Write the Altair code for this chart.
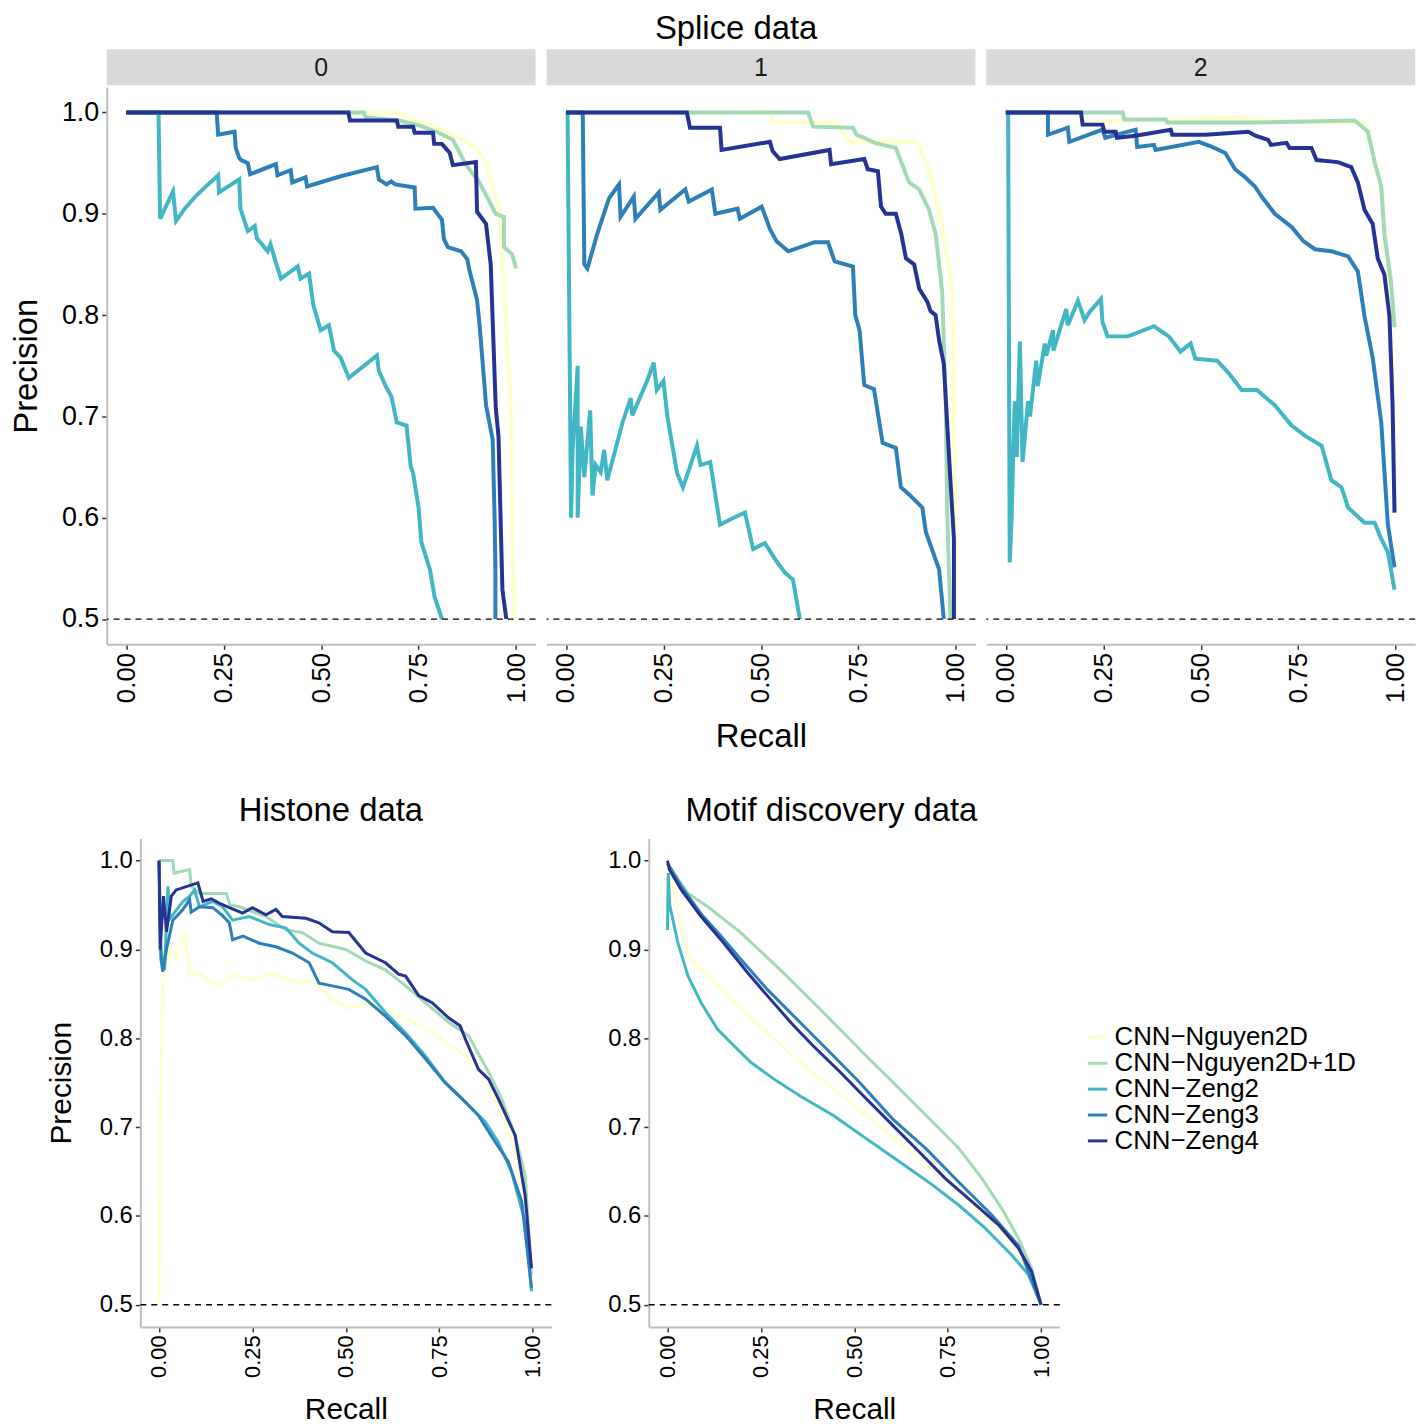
import altair as alt
import pandas as pd

MODELS = ["CNN\u2212Nguyen2D", "CNN\u2212Nguyen2D+1D", "CNN\u2212Zeng2", "CNN\u2212Zeng3", "CNN\u2212Zeng4"]
COLORS = ["#FFFFCC", "#A1DAB4", "#41B6C4", "#2C7FB8", "#253494"]
X_TICKS = [0, 0.25, 0.5, 0.75, 1.0]
Y_TICKS = [0.5, 0.6, 0.7, 0.8, 0.9, 1.0]
FACETS = ["0", "1", "2"]

# ---------------- Splice data, fold 0 ----------------
S0_N2D = [(0, 1), (0.694, 1), (0.72, 0.995), (0.787, 0.987), (0.855, 0.975), (0.897, 0.965), (0.923, 0.951),
          (0.957, 0.904), (0.969, 0.826), (0.986, 0.715), (0.99, 0.596), (0.995, 0.5)]
S0_N2D1D = [(0, 1), (0.609, 1), (0.615, 0.995), (0.70, 0.992), (0.753, 0.987), (0.796, 0.981), (0.838, 0.973),
            (0.872, 0.948), (0.906, 0.931), (0.948, 0.9), (0.969, 0.897), (0.969, 0.867), (0.99, 0.86), (1.0, 0.846)]
S0_Z2 = [(0, 1), (0.083, 1), (0.087, 0.895), (0.12, 0.922), (0.128, 0.893), (0.15, 0.905), (0.18, 0.918),
         (0.21, 0.929), (0.236, 0.938), (0.238, 0.921), (0.29, 0.934), (0.293, 0.905), (0.312, 0.883),
         (0.33, 0.888), (0.335, 0.876), (0.363, 0.863), (0.37, 0.87), (0.383, 0.853), (0.397, 0.836),
         (0.44, 0.848), (0.447, 0.836), (0.469, 0.841), (0.48, 0.81), (0.499, 0.785), (0.52, 0.79),
         (0.533, 0.765), (0.55, 0.758), (0.571, 0.738), (0.643, 0.76), (0.648, 0.745), (0.668, 0.728),
         (0.68, 0.72), (0.694, 0.694), (0.719, 0.691), (0.73, 0.65), (0.736, 0.644), (0.75, 0.61),
         (0.757, 0.576), (0.779, 0.549), (0.791, 0.522), (0.81, 0.5)]
S0_Z3 = [(0, 1), (0.232, 1), (0.236, 0.978), (0.278, 0.981), (0.281, 0.965), (0.29, 0.955), (0.295, 0.953),
         (0.312, 0.95), (0.318, 0.939), (0.384, 0.949), (0.388, 0.938), (0.422, 0.943), (0.426, 0.931),
         (0.46, 0.936), (0.464, 0.927), (0.55, 0.937), (0.643, 0.946), (0.648, 0.934), (0.668, 0.929),
         (0.68, 0.932), (0.69, 0.929), (0.74, 0.926), (0.742, 0.905), (0.787, 0.906), (0.81, 0.894),
         (0.815, 0.875), (0.825, 0.867), (0.859, 0.863), (0.875, 0.855), (0.88, 0.845), (0.9, 0.815),
         (0.906, 0.792), (0.915, 0.75), (0.923, 0.711), (0.94, 0.677), (0.945, 0.6), (0.947, 0.549), (0.947, 0.5)]
S0_Z4 = [(0, 1), (0.57, 1), (0.574, 0.992), (0.694, 0.992), (0.698, 0.986), (0.736, 0.986), (0.74, 0.98),
         (0.787, 0.98), (0.79, 0.969), (0.81, 0.969), (0.83, 0.96), (0.838, 0.948), (0.897, 0.951),
         (0.9, 0.902), (0.923, 0.89), (0.935, 0.85), (0.948, 0.708), (0.955, 0.68), (0.965, 0.529), (0.975, 0.5)]

# ---------------- Splice data, fold 1 ----------------
S1_N2D = [(0, 1), (0.527, 1), (0.53, 0.99), (0.70, 0.99), (0.714, 0.975), (0.731, 0.971), (0.897, 0.971),
          (0.927, 0.948), (0.957, 0.904), (0.98, 0.85), (0.991, 0.826), (0.995, 0.711), (0.999, 0.583), (0.999, 0.5)]
S1_N2D1D = [(0, 1), (0.621, 1), (0.634, 0.986), (0.736, 0.985), (0.745, 0.978), (0.765, 0.975), (0.791, 0.97),
            (0.846, 0.965), (0.88, 0.931), (0.906, 0.924), (0.931, 0.904), (0.948, 0.88), (0.965, 0.823),
            (0.974, 0.711), (0.978, 0.603), (0.986, 0.5)]
S1_Z2 = [(0, 1), (0.004, 1), (0.013, 0.6), (0.017, 0.667), (0.03, 0.75), (0.03, 0.6), (0.038, 0.69),
         (0.047, 0.64), (0.062, 0.706), (0.068, 0.622), (0.076, 0.652), (0.089, 0.645), (0.098, 0.667),
         (0.106, 0.637), (0.145, 0.694), (0.166, 0.718), (0.17, 0.701), (0.208, 0.735), (0.225, 0.753),
         (0.233, 0.726), (0.25, 0.735), (0.26, 0.7), (0.285, 0.644), (0.3, 0.63), (0.336, 0.671),
         (0.345, 0.652), (0.37, 0.655), (0.395, 0.593), (0.43, 0.6), (0.459, 0.605), (0.48, 0.569),
         (0.51, 0.575), (0.54, 0.557), (0.561, 0.546), (0.582, 0.539), (0.6, 0.5)]
S1_Z3 = [(0, 1), (0.043, 1), (0.047, 0.85), (0.055, 0.846), (0.08, 0.88), (0.11, 0.915), (0.136, 0.929),
         (0.14, 0.897), (0.174, 0.917), (0.178, 0.895), (0.238, 0.921), (0.242, 0.904), (0.306, 0.924),
         (0.315, 0.912), (0.374, 0.924), (0.383, 0.9), (0.44, 0.905), (0.446, 0.895), (0.502, 0.907),
         (0.523, 0.885), (0.54, 0.873), (0.57, 0.863), (0.638, 0.872), (0.672, 0.872), (0.689, 0.853),
         (0.736, 0.848), (0.742, 0.8), (0.753, 0.785), (0.765, 0.731), (0.79, 0.727), (0.812, 0.674),
         (0.846, 0.669), (0.859, 0.63), (0.88, 0.623), (0.914, 0.61), (0.923, 0.586), (0.957, 0.549), (0.969, 0.5)]
S1_Z4 = [(0, 1), (0.31, 1), (0.318, 0.985), (0.395, 0.985), (0.399, 0.963), (0.523, 0.971), (0.53, 0.962),
         (0.548, 0.954), (0.676, 0.963), (0.68, 0.949), (0.765, 0.954), (0.774, 0.944), (0.8, 0.942),
         (0.808, 0.907), (0.82, 0.9), (0.846, 0.9), (0.86, 0.88), (0.872, 0.856), (0.893, 0.85),
         (0.906, 0.826), (0.927, 0.813), (0.935, 0.804), (0.948, 0.8), (0.957, 0.775), (0.969, 0.752),
         (0.978, 0.691), (0.986, 0.637), (0.995, 0.579), (0.995, 0.5)]

# ---------------- Splice data, fold 2 ----------------
S2_N2D = [(0, 1), (0.19, 1), (0.195, 0.99), (0.4, 0.993), (0.58, 0.995), (0.77, 0.99), (0.92, 0.99),
          (0.94, 0.96), (0.96, 0.93), (0.975, 0.88), (0.99, 0.78), (0.995, 0.72)]
S2_N2D1D = [(0, 1), (0.3, 1), (0.304, 0.993), (0.41, 0.993), (0.414, 0.99), (0.64, 0.99), (0.895, 0.992),
            (0.929, 0.981), (0.946, 0.951), (0.963, 0.927), (0.971, 0.88), (0.988, 0.833), (0.997, 0.788)]
S2_Z2 = [(0, 1), (0.006, 1), (0.01, 0.556), (0.015, 0.6), (0.019, 0.664), (0.023, 0.715), (0.028, 0.66),
         (0.036, 0.774), (0.043, 0.655), (0.057, 0.715), (0.062, 0.7), (0.078, 0.755), (0.082, 0.73),
         (0.1, 0.772), (0.104, 0.76), (0.121, 0.785), (0.122, 0.765), (0.155, 0.806), (0.159, 0.79),
         (0.185, 0.814), (0.202, 0.795), (0.215, 0.803), (0.244, 0.816), (0.248, 0.793), (0.261, 0.779),
         (0.31, 0.779), (0.32, 0.78), (0.38, 0.789), (0.418, 0.779), (0.448, 0.764), (0.474, 0.772),
         (0.486, 0.757), (0.542, 0.755), (0.571, 0.743), (0.605, 0.726), (0.644, 0.726), (0.69, 0.711),
         (0.733, 0.691), (0.767, 0.681), (0.81, 0.671), (0.835, 0.637), (0.861, 0.63), (0.878, 0.61),
         (0.92, 0.595), (0.946, 0.595), (0.963, 0.579), (0.98, 0.566), (0.997, 0.529)]
S2_Z3 = [(0, 1), (0.108, 1), (0.108, 0.978), (0.159, 0.985), (0.163, 0.971), (0.248, 0.983), (0.255, 0.975),
         (0.333, 0.983), (0.337, 0.966), (0.38, 0.968), (0.384, 0.963), (0.495, 0.971), (0.529, 0.966),
         (0.563, 0.96), (0.588, 0.944), (0.614, 0.936), (0.639, 0.927), (0.656, 0.917), (0.69, 0.9),
         (0.733, 0.887), (0.763, 0.873), (0.793, 0.865), (0.835, 0.863), (0.878, 0.858), (0.903, 0.843),
         (0.92, 0.799), (0.941, 0.758), (0.963, 0.694), (0.98, 0.593), (0.997, 0.551)]
S2_Z4 = [(0, 1), (0.193, 1), (0.197, 0.988), (0.248, 0.988), (0.253, 0.981), (0.282, 0.981), (0.285, 0.975),
         (0.333, 0.977), (0.423, 0.983), (0.427, 0.978), (0.512, 0.978), (0.622, 0.981), (0.64, 0.977),
         (0.673, 0.973), (0.68, 0.968), (0.72, 0.97), (0.728, 0.965), (0.784, 0.965), (0.797, 0.953),
         (0.852, 0.951), (0.886, 0.946), (0.903, 0.931), (0.92, 0.904), (0.941, 0.89), (0.954, 0.856),
         (0.971, 0.84), (0.984, 0.799), (0.992, 0.711), (0.997, 0.605)]

# ---------------- Histone data ----------------
H_N2D = [(0, 0.5), (0.003, 0.7), (0.008, 0.82), (0.012, 0.87), (0.03, 0.9), (0.046, 0.889), (0.068, 0.919),
         (0.075, 0.9), (0.082, 0.87), (0.108, 0.873), (0.135, 0.864), (0.166, 0.859), (0.197, 0.872),
         (0.242, 0.866), (0.304, 0.872), (0.375, 0.862), (0.41, 0.864), (0.464, 0.844), (0.508, 0.834),
         (0.553, 0.839), (0.624, 0.829), (0.686, 0.818), (0.757, 0.799), (0.82, 0.78), (0.873, 0.758),
         (0.917, 0.713), (0.953, 0.676), (0.98, 0.62), (0.997, 0.545)]
H_N2D1D = [(0, 1), (0.037, 1), (0.04, 0.986), (0.082, 0.99), (0.086, 0.971), (0.108, 0.963), (0.18, 0.963),
           (0.19, 0.95), (0.215, 0.948), (0.286, 0.937), (0.34, 0.922), (0.384, 0.919), (0.428, 0.907),
           (0.5, 0.9), (0.553, 0.887), (0.606, 0.877), (0.66, 0.859), (0.713, 0.84), (0.775, 0.818),
           (0.828, 0.803), (0.882, 0.762), (0.917, 0.732), (0.953, 0.691), (0.98, 0.646), (0.997, 0.534)]
H_Z2 = [(0, 1), (0.005, 0.9), (0.015, 0.877), (0.024, 0.971), (0.028, 0.934), (0.064, 0.954), (0.082, 0.96),
        (0.095, 0.967), (0.108, 0.948), (0.144, 0.954), (0.17, 0.948), (0.197, 0.933), (0.242, 0.937),
        (0.295, 0.928), (0.34, 0.924), (0.375, 0.907), (0.41, 0.896), (0.464, 0.885), (0.517, 0.866),
        (0.553, 0.855), (0.606, 0.829), (0.66, 0.806), (0.713, 0.78), (0.766, 0.75), (0.82, 0.728),
        (0.873, 0.706), (0.908, 0.683), (0.944, 0.649), (0.98, 0.593), (0.997, 0.515)]
H_Z3 = [(0, 1), (0.005, 0.89), (0.01, 0.875), (0.02, 0.9), (0.037, 0.933), (0.064, 0.945), (0.082, 0.956),
        (0.086, 0.942), (0.108, 0.948), (0.144, 0.947), (0.17, 0.938), (0.188, 0.93), (0.197, 0.911),
        (0.225, 0.915), (0.268, 0.907), (0.313, 0.903), (0.357, 0.896), (0.402, 0.885), (0.428, 0.862),
        (0.464, 0.859), (0.508, 0.855), (0.553, 0.844), (0.606, 0.825), (0.66, 0.803), (0.713, 0.777),
        (0.766, 0.75), (0.811, 0.732), (0.855, 0.713), (0.9, 0.683), (0.935, 0.661), (0.971, 0.616), (0.997, 0.519)]
H_Z4 = [(0, 1), (0.003, 0.9), (0.012, 0.96), (0.02, 0.92), (0.033, 0.96), (0.046, 0.967), (0.075, 0.971),
        (0.104, 0.975), (0.118, 0.954), (0.14, 0.957), (0.162, 0.952), (0.188, 0.947), (0.224, 0.941),
        (0.25, 0.947), (0.286, 0.939), (0.313, 0.945), (0.33, 0.937), (0.393, 0.935), (0.428, 0.93),
        (0.464, 0.92), (0.508, 0.919), (0.553, 0.896), (0.606, 0.885), (0.642, 0.872), (0.66, 0.87),
        (0.695, 0.848), (0.731, 0.84), (0.775, 0.823), (0.806, 0.814), (0.82, 0.799), (0.855, 0.765),
        (0.882, 0.754), (0.908, 0.732), (0.953, 0.691), (0.98, 0.623), (0.997, 0.541)]

# ---------------- Motif discovery data ----------------
M_N2D = [(0, 0.997), (0.011, 0.978), (0.055, 0.892), (0.108, 0.87), (0.179, 0.84), (0.267, 0.806),
         (0.355, 0.773), (0.444, 0.743), (0.532, 0.713), (0.621, 0.683), (0.709, 0.653), (0.798, 0.62),
         (0.886, 0.586), (0.939, 0.56), (1.0, 0.5)]
M_N2D1D = [(0, 0.997), (0.055, 0.963), (0.108, 0.948), (0.196, 0.919), (0.302, 0.877), (0.408, 0.833),
           (0.532, 0.78), (0.621, 0.743), (0.709, 0.706), (0.78, 0.676), (0.842, 0.642), (0.895, 0.608),
           (0.939, 0.575), (0.975, 0.541), (1.0, 0.5)]
M_Z2 = [(0, 0.922), (0.002, 0.986), (0.006, 0.95), (0.028, 0.907), (0.055, 0.87), (0.09, 0.84), (0.134, 0.81),
        (0.179, 0.791), (0.223, 0.773), (0.285, 0.754), (0.355, 0.735), (0.444, 0.713), (0.532, 0.687),
        (0.621, 0.661), (0.709, 0.635), (0.78, 0.612), (0.851, 0.586), (0.921, 0.556), (0.966, 0.534), (1.0, 0.5)]
M_Z3 = [(0, 0.997), (0.037, 0.971), (0.09, 0.94), (0.143, 0.915), (0.196, 0.889), (0.267, 0.855),
        (0.338, 0.825), (0.426, 0.788), (0.515, 0.75), (0.603, 0.709), (0.691, 0.676), (0.78, 0.638),
        (0.868, 0.601), (0.939, 0.567), (1.0, 0.5)]
M_Z4 = [(0, 1.0), (0.005, 0.99), (0.037, 0.967), (0.09, 0.937), (0.143, 0.911), (0.214, 0.874),
        (0.267, 0.848), (0.338, 0.814), (0.391, 0.791), (0.462, 0.762), (0.532, 0.732), (0.603, 0.702),
        (0.674, 0.672), (0.744, 0.642), (0.815, 0.616), (0.886, 0.59), (0.939, 0.564), (0.974, 0.538), (1.0, 0.5)]

SPLICE = [
    [S0_N2D, S0_N2D1D, S0_Z2, S0_Z3, S0_Z4],
    [S1_N2D, S1_N2D1D, S1_Z2, S1_Z3, S1_Z4],
    [S2_N2D, S2_N2D1D, S2_Z2, S2_Z3, S2_Z4],
]
HISTONE = [H_N2D, H_N2D1D, H_Z2, H_Z3, H_Z4]
MOTIF = [M_N2D, M_N2D1D, M_Z2, M_Z3, M_Z4]

FONT = "Liberation Sans"


def to_df(series_list):
    rows = []
    for m, pts in zip(MODELS, series_list):
        for i, (r, p) in enumerate(pts):
            rows.append({"model": m, "i": i, "recall": r, "precision": p})
    return pd.DataFrame(rows)


def panel(series_list, width, height, show_y, xtitle, ytitle, sw, xlab, ylab, title_size,
          xtitle_pad, ytitle_pad, legend=None, strip=None):
    df = to_df(series_list)
    xaxis = alt.Axis(values=X_TICKS, format=".2f", labelAngle=-90, labelAlign="right",
                     labelBaseline="middle", labelFontSize=xlab, labelPadding=3,
                     title=xtitle, titleFontSize=title_size, titlePadding=xtitle_pad)
    if show_y:
        yaxis = alt.Axis(values=Y_TICKS, format=".1f", labelFontSize=ylab, labelPadding=3,
                         title=ytitle, titleFontSize=title_size, titlePadding=ytitle_pad)
    else:
        yaxis = None
    lines = alt.Chart(df).mark_line(strokeWidth=sw, strokeJoin="miter").encode(
        x=alt.X("recall:Q", scale=alt.Scale(domain=[-0.05, 1.05], nice=False, zero=False), axis=xaxis),
        y=alt.Y("precision:Q", scale=alt.Scale(domain=[0.475, 1.025], nice=False, zero=False), axis=yaxis),
        color=alt.Color("model:N", scale=alt.Scale(domain=MODELS, range=COLORS),
                        sort=MODELS, legend=legend),
        order=alt.Order("i:Q"),
    )
    rule = alt.Chart(pd.DataFrame({"y": [0.5]})).mark_rule(
        color="black", strokeDash=[6, 5], strokeWidth=1.3).encode(y="y:Q")
    layers = []
    if strip is not None:
        sdf = pd.DataFrame({"lab": [strip]})
        layers.append(alt.Chart(sdf).mark_rect(color="#D9D9D9").encode(
            x=alt.value(0), x2=alt.value(width), y=alt.value(-38), y2=alt.value(-2)))
        layers.append(alt.Chart(sdf).mark_text(fontSize=25, font=FONT, color="#1A1A1A",
                                               baseline="middle", align="center").encode(
            x=alt.value(width / 2), y=alt.value(-19), text="lab:N"))
    layers += [lines, rule]
    return alt.layer(*layers).properties(width=width, height=height)


top_panels = []
for k in range(3):
    top_panels.append(panel(SPLICE[k], 431, 560, show_y=(k == 0),
                            xtitle=("Recall" if k == 1 else None),
                            ytitle="Precision", sw=4, xlab=26, ylab=27, title_size=33,
                            xtitle_pad=18, ytitle_pad=18, strip=FACETS[k]))

top = alt.hconcat(*top_panels, spacing=9).resolve_scale(color="independent").properties(
    title=alt.TitleParams("Splice data", fontSize=33, fontWeight="normal", font=FONT,
                          anchor="middle", offset=3, dx=23, color="black"))

LEG_PAD = 26
legend = alt.Legend(title=None, orient="none", legendX=438 - LEG_PAD, legendY=187 - LEG_PAD,
                    labelFontSize=26, labelFont=FONT, labelColor="black", labelLimit=0,
                    symbolType="stroke", symbolStrokeWidth=3, symbolSize=380, rowPadding=0,
                    labelOffset=4, padding=LEG_PAD)

histone = panel(HISTONE, 413, 491, show_y=True, xtitle="Recall", ytitle="Precision", sw=3,
                xlab=22, ylab=24, title_size=30, xtitle_pad=17, ytitle_pad=23).properties(
    title=alt.TitleParams("Histone data", fontSize=33, fontWeight="normal", font=FONT,
                          anchor="middle", offset=10, dx=-15, color="black"))
motif = panel(MOTIF, 413, 491, show_y=True, xtitle="Recall", ytitle=None, sw=3,
              xlab=22, ylab=24, title_size=30, xtitle_pad=17, ytitle_pad=18, legend=legend).properties(
    title=alt.TitleParams("Motif discovery data", fontSize=33, fontWeight="normal", font=FONT,
                          anchor="middle", offset=10, dx=-23, color="black"))

bottom = alt.hconcat(histone, motif, spacing=55).resolve_scale(color="independent")

chart = alt.vconcat(top, bottom, spacing=42, center=True).resolve_scale(color="independent").properties(
    padding={"left": 2, "top": 2, "right": 0, "bottom": 0}
).configure_view(stroke=None).configure_axis(
    grid=False, domainColor="#BDBDBD", domainWidth=2, tickColor="#333333", tickWidth=1.5,
    tickSize=5, labelColor="black", labelFont=FONT, titleFont=FONT, titleFontWeight="normal",
    titleColor="black"
)

chart.save("out.html", embed_options={"renderer": "svg", "actions": False})
